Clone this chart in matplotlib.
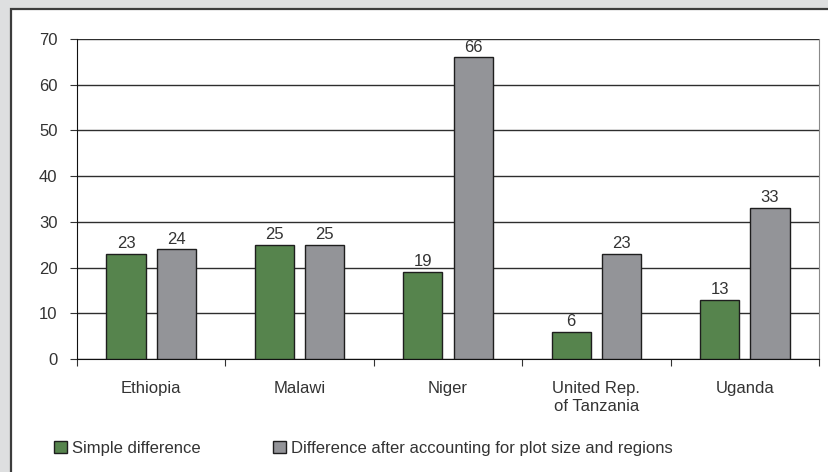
import numpy as np
import matplotlib
matplotlib.use('Agg')
import matplotlib.pyplot as plt
from matplotlib.patches import Rectangle

countries = ['Ethiopia', 'Malawi', 'Niger', 'United Rep.\nof Tanzania', 'Uganda']
simple_diff = [23, 25, 19, 6, 13]
adjusted_diff = [24, 25, 66, 23, 33]
series_names = ['Simple difference',
                'Difference after accounting for plot size and regions']

green = '#56844d'
grey = '#939498'
text_col = '#333333'

plt.rcParams['font.family'] = ['Liberation Sans', 'DejaVu Sans']
plt.rcParams['font.size'] = 12

fig = plt.figure(figsize=(8.29, 4.72), dpi=100)
fig.patch.set_facecolor('#dedfe0')

# white panel with dark frame, kept behind the axes
fig.patches.append(Rectangle((11 / 829, -0.05), 1.1, 1 - 9 / 472 + 0.05,
                             transform=fig.transFigure, facecolor='white',
                             edgecolor='#3c3c3c', linewidth=1.6, zorder=-5))

ax = fig.add_axes([77 / 829, 1 - 359 / 472, (819 - 77) / 829, (359 - 39) / 472])
ax.set_facecolor('none')
ax.set_zorder(1)

x = np.arange(len(countries))
w = 0.265
off = 0.17
b1 = ax.bar(x - off, simple_diff, w, color=green, edgecolor='#1e1e1e',
            linewidth=1, label=series_names[0], zorder=3)
b2 = ax.bar(x + off, adjusted_diff, w, color=grey, edgecolor='#1e1e1e',
            linewidth=1, label=series_names[1], zorder=3)

for bars, vals in [(b1, simple_diff), (b2, adjusted_diff)]:
    for rect, v in zip(bars, vals):
        ax.annotate(str(v), (rect.get_x() + rect.get_width() / 2, v),
                    xytext=(0, 2), textcoords='offset points',
                    ha='center', va='bottom', color=text_col)

ax.set_xlim(-0.5, len(countries) - 0.5)
ax.set_ylim(0, 70)
ax.set_yticks(np.arange(0, 71, 10))
ax.yaxis.grid(True, color='#2e2e2e', linewidth=1, zorder=1)
ax.set_axisbelow(True)

# boundary ticks between categories, labels centred on the categories
ax.set_xticks(np.arange(-0.5, len(countries), 1))
ax.set_xticklabels([])
ax.set_xticks(x, minor=True)
ax.set_xticklabels(countries, minor=True)
ax.tick_params(axis='x', which='major', direction='out', length=5,
               color='#333333')
ax.tick_params(axis='x', which='minor', length=0, pad=16, colors=text_col)
ax.tick_params(axis='y', direction='out', length=5, pad=9, colors=text_col,
               color='#333333')

ax.spines['left'].set_color('#111111')
ax.spines['bottom'].set_color('#111111')
ax.spines['top'].set_visible(False)
ax.spines['right'].set_color('#8a8a8a')

ax.legend(loc='upper left', bbox_to_anchor=(39 / 829, 1 - 426 / 472),
          bbox_transform=fig.transFigure, ncol=2, frameon=False,
          handlelength=0.75, handleheight=0.75, handletextpad=0.3,
          columnspacing=4.4, labelcolor=text_col)

fig.savefig('out.png', dpi=100, facecolor=fig.get_facecolor())
